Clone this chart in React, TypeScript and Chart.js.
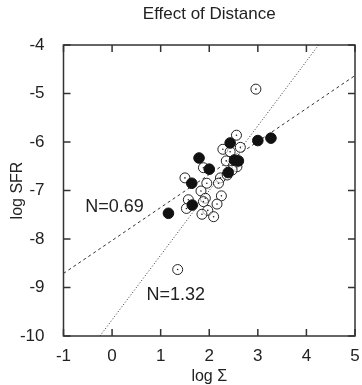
import React, { useEffect, useRef } from "react";
import { Chart, registerables } from "chart.js";

Chart.register(...registerables);

// Open circles (with centre dot)
const openX = [2.56, 2.28, 2.43, 2.64, 2.35, 2.5, 2.57, 1.88, 1.5, 2.23, 1.95, 1.83, 2.25, 1.57, 1.92, 1.88, 2.16, 1.53, 1.97, 1.85, 2.09, 2.37, 2.47, 2.19, 1.35, 2.96];
const openY = [-5.86, -6.15, -6.2, -6.11, -6.39, -6.48, -6.51, -6.53, -6.74, -6.74, -6.85, -7.01, -7.11, -7.19, -7.16, -7.23, -7.28, -7.37, -7.41, -7.49, -7.54, -6.68, -6.58, -6.85, -8.63, -4.91];

// Filled circles
const filledX = [1.16, 1.79, 2.43, 3.0, 3.27, 2.0, 1.64, 1.65, 2.39, 2.52, 2.6];
const filledY = [-7.47, -6.33, -6.02, -5.97, -5.92, -6.56, -6.85, -7.3, -6.63, -6.37, -6.39];

// Fit lines (end points)
const shallowX = [-1, 5];
const shallowY = [-8.71, -4.63];
const steepX = [-0.25, 4.25];
const steepY = [-10, -4];

// Annotations
const noteText = ["N=0.69", "N=1.32"];
const noteX = [0.05, 1.31];
const noteY = [-7.34, -9.16];

const xTicks = [-1, 0, 1, 2, 3, 4, 5];
const yTicks = [-10, -9, -8, -7, -6, -5, -4];

const FONT = "'Liberation Sans', Arial, sans-serif";
const INK = "#222";

const frame = {
  id: "frame",
  afterDatasetsDraw(chart: any) {
    const { ctx, chartArea: a, scales } = chart;
    const xs = scales.x;
    const ys = scales.y;
    ctx.save();
    ctx.fillStyle = INK;
    ctx.font = `18px ${FONT}`;
    ctx.textAlign = "center";
    ctx.textBaseline = "middle";
    noteText.forEach((t, i) => {
      ctx.fillText(t, xs.getPixelForValue(noteX[i]), ys.getPixelForValue(noteY[i]));
    });
    ctx.strokeStyle = "#333";
    ctx.lineWidth = 1.5;
    const L = 7;
    ctx.beginPath();
    xTicks.forEach((v) => {
      const px = xs.getPixelForValue(v);
      ctx.moveTo(px, a.bottom);
      ctx.lineTo(px, a.bottom - L);
      ctx.moveTo(px, a.top);
      ctx.lineTo(px, a.top + L);
    });
    yTicks.forEach((v) => {
      const py = ys.getPixelForValue(v);
      ctx.moveTo(a.left, py);
      ctx.lineTo(a.left + L, py);
      ctx.moveTo(a.right, py);
      ctx.lineTo(a.right - L, py);
    });
    ctx.stroke();
    ctx.strokeRect(a.left, a.top, a.right - a.left, a.bottom - a.top);
    ctx.restore();
  },
};

export default function App() {
  const ref = useRef<HTMLCanvasElement>(null);
  useEffect(() => {
    if (!ref.current) return;
    const pts = (xs: number[], ys: number[]) => xs.map((x, i) => ({ x, y: ys[i] }));
    const chart = new Chart(ref.current, {
      type: "scatter",
      data: {
        datasets: [
          {
            label: "filled",
            data: pts(filledX, filledY),
            pointRadius: 5.3,
            pointBackgroundColor: "#111",
            pointBorderColor: "#111",
            pointBorderWidth: 1,
            order: 1,
          },
          {
            label: "open-dot",
            data: pts(openX, openY),
            pointRadius: 0.8,
            pointBackgroundColor: "#222",
            pointBorderWidth: 0,
            order: 2,
          },
          {
            label: "open",
            data: pts(openX, openY),
            pointRadius: 5,
            pointBackgroundColor: "rgba(255,255,255,0.6)",
            pointBorderColor: "#222",
            pointBorderWidth: 1,
            order: 3,
          },
          {
            type: "line",
            label: "N=0.69",
            data: pts(shallowX, shallowY),
            borderColor: "#333",
            borderWidth: 1,
            borderDash: [3, 3],
            pointRadius: 0,
            showLine: true,
            fill: false,
            order: 4,
          },
          {
            type: "line",
            label: "N=1.32",
            data: pts(steepX, steepY),
            borderColor: "#333",
            borderWidth: 1,
            borderDash: [1, 2],
            pointRadius: 0,
            showLine: true,
            fill: false,
            order: 5,
          },
        ] as any,
      },
      options: {
        animation: false,
        responsive: false,
        maintainAspectRatio: false,
        layout: { padding: { left: 0, right: 7, top: 0, bottom: 0 } },
        plugins: {
          legend: { display: false },
          tooltip: { enabled: false },
          title: {
            display: true,
            text: "Effect of Distance",
            fullSize: false,
            color: INK,
            font: { family: FONT, size: 17, weight: "normal" },
            padding: { top: 4, bottom: 20.6 },
          },
        },
        scales: {
          x: {
            type: "linear",
            min: -1,
            max: 5,
            grid: { display: false },
            border: { display: false },
            afterBuildTicks: (s: any) => {
              s.ticks = xTicks.map((v) => ({ value: v }));
            },
            afterFit: (s: any) => {
              s.height = 49;
            },
            ticks: {
              color: INK,
              padding: 2,
              font: { family: FONT, size: 17 },
              maxRotation: 0,
              callback: (v: any) => String(v),
            },
            title: {
              display: true,
              text: "log Σ",
              color: INK,
              font: { family: FONT, size: 16 },
              padding: { top: 0, bottom: -1 },
            },
          },
          y: {
            type: "linear",
            min: -10,
            max: -4,
            grid: { display: false },
            border: { display: false },
            afterBuildTicks: (s: any) => {
              s.ticks = yTicks.map((v) => ({ value: v }));
            },
            afterFit: (s: any) => {
              s.width = 63.5;
            },
            ticks: {
              color: INK,
              padding: 11,
              font: { family: FONT, size: 17 },
              callback: (v: any) => String(v),
            },
            title: {
              display: true,
              text: "log SFR",
              color: INK,
              font: { family: FONT, size: 16 },
              padding: { top: 8, bottom: 0 },
            },
          },
        },
      },
      plugins: [frame],
    } as any);
    return () => chart.destroy();
  }, []);
  return (
    <div style={{ position: "fixed", left: 0, top: 0, width: 362, height: 385, background: "#fff" }}>
      <canvas ref={ref} width={362} height={385} style={{ display: "block" }} />
    </div>
  );
}
